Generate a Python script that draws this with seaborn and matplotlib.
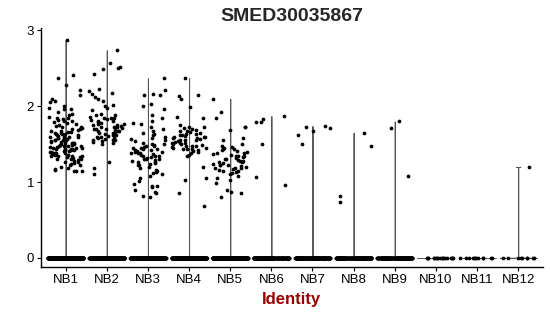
import numpy as np
import pandas as pd
import matplotlib
matplotlib.use("Agg")
import matplotlib.pyplot as plt
import seaborn as sns

title = "SMED30035867"
clusters = ["NB1", "NB2", "NB3", "NB4", "NB5", "NB6", "NB7", "NB8", "NB9", "NB10", "NB11", "NB12"]

# number of cells with zero expression per cluster
zero_counts = [450, 380, 420, 380, 400, 180, 200, 200, 170, 18, 12, 9]

# non-zero expression values per cluster
nb1 = [2.87, 2.41, 2.37, 2.28, 2.22, 2.15, 2.09, 2.07, 2.05, 2.0, 1.98, 1.97, 1.96, 1.93, 1.9,
       1.88, 1.86, 1.85, 1.84, 1.83, 1.82, 1.8, 1.8, 1.79, 1.78, 1.77, 1.75, 1.74, 1.73, 1.72,
       1.71, 1.7, 1.7, 1.69, 1.68, 1.67, 1.66, 1.66, 1.65, 1.64, 1.63, 1.63, 1.62, 1.61, 1.6,
       1.6, 1.59, 1.58, 1.58, 1.57, 1.56, 1.56, 1.55, 1.54, 1.54, 1.53, 1.52, 1.52, 1.51, 1.5,
       1.5, 1.49, 1.49, 1.48, 1.47, 1.47, 1.46, 1.46, 1.45, 1.44, 1.44, 1.43, 1.42, 1.42, 1.41,
       1.4, 1.4, 1.39, 1.38, 1.38, 1.37, 1.36, 1.36, 1.35, 1.34, 1.33, 1.32, 1.31, 1.3, 1.29,
       1.28, 1.27, 1.26, 1.25, 1.24, 1.23, 1.22, 1.2, 1.19, 1.17, 1.16, 1.15, 1.15, 1.14,
       1.62, 1.57, 1.53, 1.51, 1.48, 1.45, 1.43, 1.41, 1.39, 1.37, 1.35, 1.33, 1.3, 1.45,
       1.55, 1.6, 1.65, 1.5, 1.42, 1.38, 1.34]
nb2 = [2.74, 2.57, 2.52, 2.5, 2.49, 2.42, 2.23, 2.2, 2.18, 2.16, 2.12, 2.1, 2.07, 2.02, 2.0,
       1.98, 1.95, 1.9, 1.89, 1.88, 1.86, 1.85, 1.84, 1.83, 1.82, 1.8, 1.79, 1.78, 1.77, 1.76,
       1.75, 1.74, 1.73, 1.72, 1.71, 1.7, 1.7, 1.69, 1.68, 1.67, 1.66, 1.65, 1.64, 1.63, 1.62,
       1.61, 1.6, 1.59, 1.58, 1.57, 1.56, 1.55, 1.54, 1.53, 1.52, 1.5, 1.26, 1.18, 1.1,
       1.85, 1.8, 1.75, 1.72, 1.68, 1.65, 1.62, 1.58, 1.55, 1.78, 1.7]
nb3 = [2.37, 2.22, 2.16, 2.15, 2.15, 2.03, 2.0, 1.97, 1.89, 1.85, 1.8, 1.78, 1.76, 1.72, 1.7,
       1.68, 1.65, 1.63, 1.62, 1.6, 1.58, 1.57, 1.55, 1.54, 1.52, 1.5, 1.49, 1.48, 1.47, 1.46,
       1.45, 1.44, 1.43, 1.42, 1.41, 1.4, 1.4, 1.39, 1.38, 1.37, 1.36, 1.35, 1.34, 1.33, 1.32,
       1.31, 1.3, 1.29, 1.28, 1.27, 1.26, 1.25, 1.24, 1.23, 1.22, 1.2, 1.18, 1.16, 1.15, 1.13,
       1.12, 1.1, 1.08, 1.05, 1.01, 0.98, 0.95, 0.95, 0.94, 0.9, 0.87, 0.85, 0.82, 0.8,
       1.45, 1.42, 1.38, 1.35, 1.3, 1.5]
nb4 = [2.37, 2.15, 2.13, 2.09, 1.99, 1.86, 1.84, 1.75, 1.73, 1.72, 1.71, 1.7, 1.69, 1.68, 1.67,
       1.66, 1.65, 1.64, 1.63, 1.62, 1.61, 1.6, 1.6, 1.59, 1.58, 1.57, 1.56, 1.55, 1.55, 1.54,
       1.53, 1.52, 1.51, 1.5, 1.5, 1.49, 1.48, 1.47, 1.46, 1.45, 1.45, 1.44, 1.43, 1.42, 1.41,
       1.4, 1.38, 1.36, 1.34, 1.2, 1.05, 1.03, 0.85, 0.69, 1.62, 1.58, 1.52, 1.48, 1.44]
nb5 = [2.1, 1.92, 1.84, 1.73, 1.72, 1.69, 1.58, 1.56, 1.5, 1.48, 1.46, 1.45, 1.44, 1.43, 1.42,
       1.41, 1.4, 1.39, 1.38, 1.37, 1.36, 1.35, 1.34, 1.33, 1.32, 1.31, 1.3, 1.29, 1.28, 1.27,
       1.26, 1.25, 1.24, 1.23, 1.22, 1.21, 1.2, 1.19, 1.18, 1.17, 1.16, 1.15, 1.14, 1.13, 1.12,
       1.1, 1.08, 1.06, 1.03, 0.99, 0.9, 0.87, 0.85, 0.8, 1.35, 1.28, 1.22, 1.18]
nb6 = [1.87, 1.83, 1.79, 1.79, 1.5, 1.07, 0.96]
nb7 = [1.74, 1.73, 1.71, 1.68, 1.62, 1.5]
nb8 = [1.65, 1.48, 0.81, 0.74]
nb9 = [1.8, 1.71, 1.08]
nb10 = []
nb11 = []
nb12 = [1.2]

nonzero = [nb1, nb2, nb3, nb4, nb5, nb6, nb7, nb8, nb9, nb10, nb11, nb12]

rows = []
for c, nz, vals in zip(clusters, zero_counts, nonzero):
    for v in list(vals) + [0.0] * nz:
        rows.append((c, v))
df = pd.DataFrame(rows, columns=["Identity", "expr"])
df["Identity"] = pd.Categorical(df["Identity"], categories=clusters, ordered=True)

sns.set_theme(style="ticks")
plt.rcParams["font.family"] = ["Liberation Sans", "DejaVu Sans"]

fig = plt.figure(figsize=(5.5, 3.16), dpi=100)
ax = fig.add_axes([0.0745, 0.155, 0.9125, 0.756])

sns.violinplot(data=df, x="Identity", y="expr", order=clusters, cut=0, inner=None,
               density_norm="width", bw_method=0.0005, gridsize=400, width=0.9,
               color="white", linecolor="#555555", linewidth=0.7, ax=ax)

np.random.seed(3)
sns.stripplot(data=df, x="Identity", y="expr", order=clusters, jitter=0.43,
              color="black", size=2.7, linewidth=0, ax=ax)

ax.set_xlim(-0.6, 11.6)
ax.set_ylim(-0.12, 3.03)
ax.set_yticks([0, 1, 2, 3])
ax.set_ylabel("")
ax.set_xlabel("Identity", fontsize=12, fontweight="bold", color="#990000", labelpad=4)
ax.set_title(title, fontsize=14, fontweight="bold", pad=5)
ax.tick_params(axis="both", labelsize=9.5, length=3, width=0.8, colors="black", pad=2)
sns.despine(ax=ax)
for s in ["left", "bottom"]:
    ax.spines[s].set_linewidth(1.0)
    ax.spines[s].set_color("black")

fig.savefig("out.png", dpi=100)
